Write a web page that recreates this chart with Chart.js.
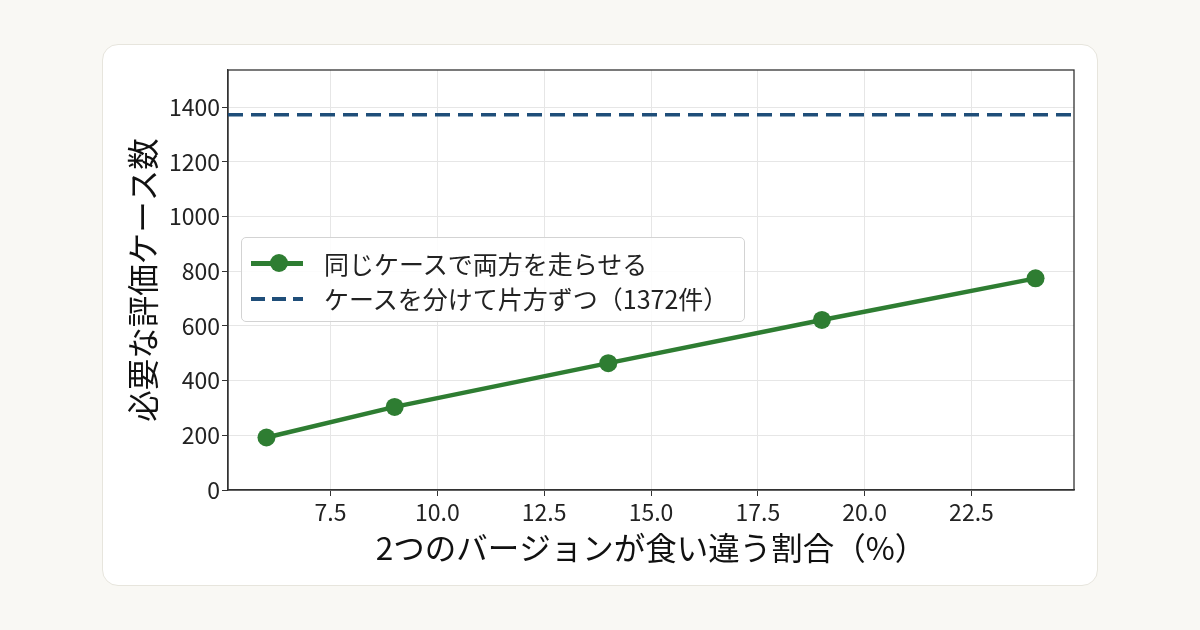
<!DOCTYPE html>
<html>
<head>
<meta charset="utf-8">
<script src="https://cdn.jsdelivr.net/npm/chart.js@4.4.0/dist/chart.umd.min.js"></script>
<style>
html, body { margin:0; padding:0; background:#f9f8f4; }
#wrap { position:relative; width:1200px; height:630px; }
#card { position:absolute; left:102px; top:44px; width:996px; height:542px; background:#fff;
        border:1px solid #e7e5dd; border-radius:16px; box-sizing:border-box; }
#myChart { position:absolute; left:0; top:0; }
#legend { position:absolute; left:241px; top:237px; width:504px; height:85px; box-sizing:border-box;
          border:1px solid #d3d3d3; border-radius:5px; background:rgba(255,255,255,0.85);
          font-family:"Noto Sans CJK JP", "Noto Sans", sans-serif; font-size:25px; color:#222; }
.row { position:absolute; left:9px; height:32px; display:flex; align-items:center; }
.swatch { position:relative; width:52px; height:32px; margin-right:21px; }
.line { position:absolute; left:0; top:14px; width:52px; height:5px; }
.dot { position:absolute; left:19px; top:7px; width:18px; height:18px; border-radius:50%; }
</style>
</head>
<body>
<div id="wrap">
  <div id="card"></div>
  <canvas id="myChart" width="1200" height="630"></canvas>
  <div id="legend"></div>
</div>
<script>
// data
var percents = [6, 9, 14, 19, 24];
var sameCase = [192, 304, 464, 622, 774];
var splitCase = 1372;
var xTicks = [7.5, 10, 12.5, 15, 17.5, 20, 22.5];
var yTicks = [0, 200, 400, 600, 800, 1000, 1200, 1400];
var seriesLabels = ["同じケースで両方を走らせる", "ケースを分けて片方ずつ（1372件）"];
var xMin = 5.1, xMax = 24.9, yMax = 1536;

var green = "#2e7d32";
var blue = "#1f4e79";

Chart.defaults.font.family = '"Noto Sans CJK JP", "Noto Sans", sans-serif';
Chart.defaults.color = "#222";

var sameData = [];
for (let i = 0; i < percents.length; i++) {
    sameData.push({x: percents[i], y: sameCase[i]});
}
var splitData = [{x: xMin, y: splitCase}, {x: xMax, y: splitCase}];

// frame round the plot area
var frame = {
    id: 'frame',
    beforeDatasetsDraw: function(chart) {
        var a = chart.chartArea, c = chart.ctx;
        c.save();
        c.strokeStyle = "#333";
        c.lineWidth = 1.3;
        c.strokeRect(a.left, a.top, a.right - a.left, a.bottom - a.top);
        c.restore();
    }
};

var ctx = document.getElementById('myChart').getContext('2d');
var chart = new Chart(ctx, {
    type: 'line',
    data: {
        datasets: [{
            label: seriesLabels[0],
            data: sameData,
            borderColor: green,
            backgroundColor: green,
            borderWidth: 4.5,
            pointRadius: 9,
            pointBorderWidth: 0,
            pointBackgroundColor: green,
            fill: false
        }, {
            label: seriesLabels[1],
            data: splitData,
            borderColor: blue,
            borderWidth: 3.5,
            borderDash: [15, 8],
            pointRadius: 0,
            fill: false
        }]
    },
    options: {
        responsive: false,
        animation: false,
        layout: { padding: { left: 102, right: 126, top: 70, bottom: 44 } },
        plugins: { legend: { display: false }, tooltip: { enabled: false } },
        scales: {
            x: {
                type: 'linear', min: xMin, max: xMax,
                afterBuildTicks: function(axis) { axis.ticks = xTicks.map(v => ({value: v})); },
                afterFit: function(s) { s.height = 96; },
                ticks: { font: { size: 23 }, color: "#222", padding: 2,
                         callback: function(v) { return v.toFixed(1); } },
                grid: { color: "#e6e6e6", tickColor: "#333", tickLength: 6 },
                border: { color: "#333", width: 1.3 },
                title: { display: true, text: "2つのバージョンが食い違う割合（%）",
                         font: { size: 31.5 }, color: "#111", padding: { top: 0, bottom: 19 } }
            },
            y: {
                min: 0, max: yMax,
                afterBuildTicks: function(axis) { axis.ticks = yTicks.map(v => ({value: v})); },
                afterFit: function(s) { s.width = 126; },
                ticks: { font: { size: 23 }, color: "#222", padding: 2,
                         callback: function(v) { return String(v); } },
                grid: { color: "#e6e6e6", tickColor: "#333", tickLength: 6 },
                border: { color: "#333", width: 1.3 },
                title: { display: true, text: "必要な評価ケース数",
                         font: { size: 31.5 }, color: "#111", padding: { top: 22, bottom: 0 } }
            }
        }
    },
    plugins: [frame]
});

// legend inside the plot
var leg = document.getElementById('legend');
var html = '';
html += '<div class="row" style="top:9px"><div class="swatch"><div class="line" style="background:' + green +
        '"></div><div class="dot" style="background:' + green + '"></div></div>' + seriesLabels[0] + '</div>';
html += '<div class="row" style="top:44px"><div class="swatch"><div class="line" style="height:4px;top:15px;background:repeating-linear-gradient(90deg,' +
        blue + ' 0 14px, transparent 14px 21px)"></div></div>' + seriesLabels[1] + '</div>';
leg.innerHTML = html;
</script>
</body>
</html>
